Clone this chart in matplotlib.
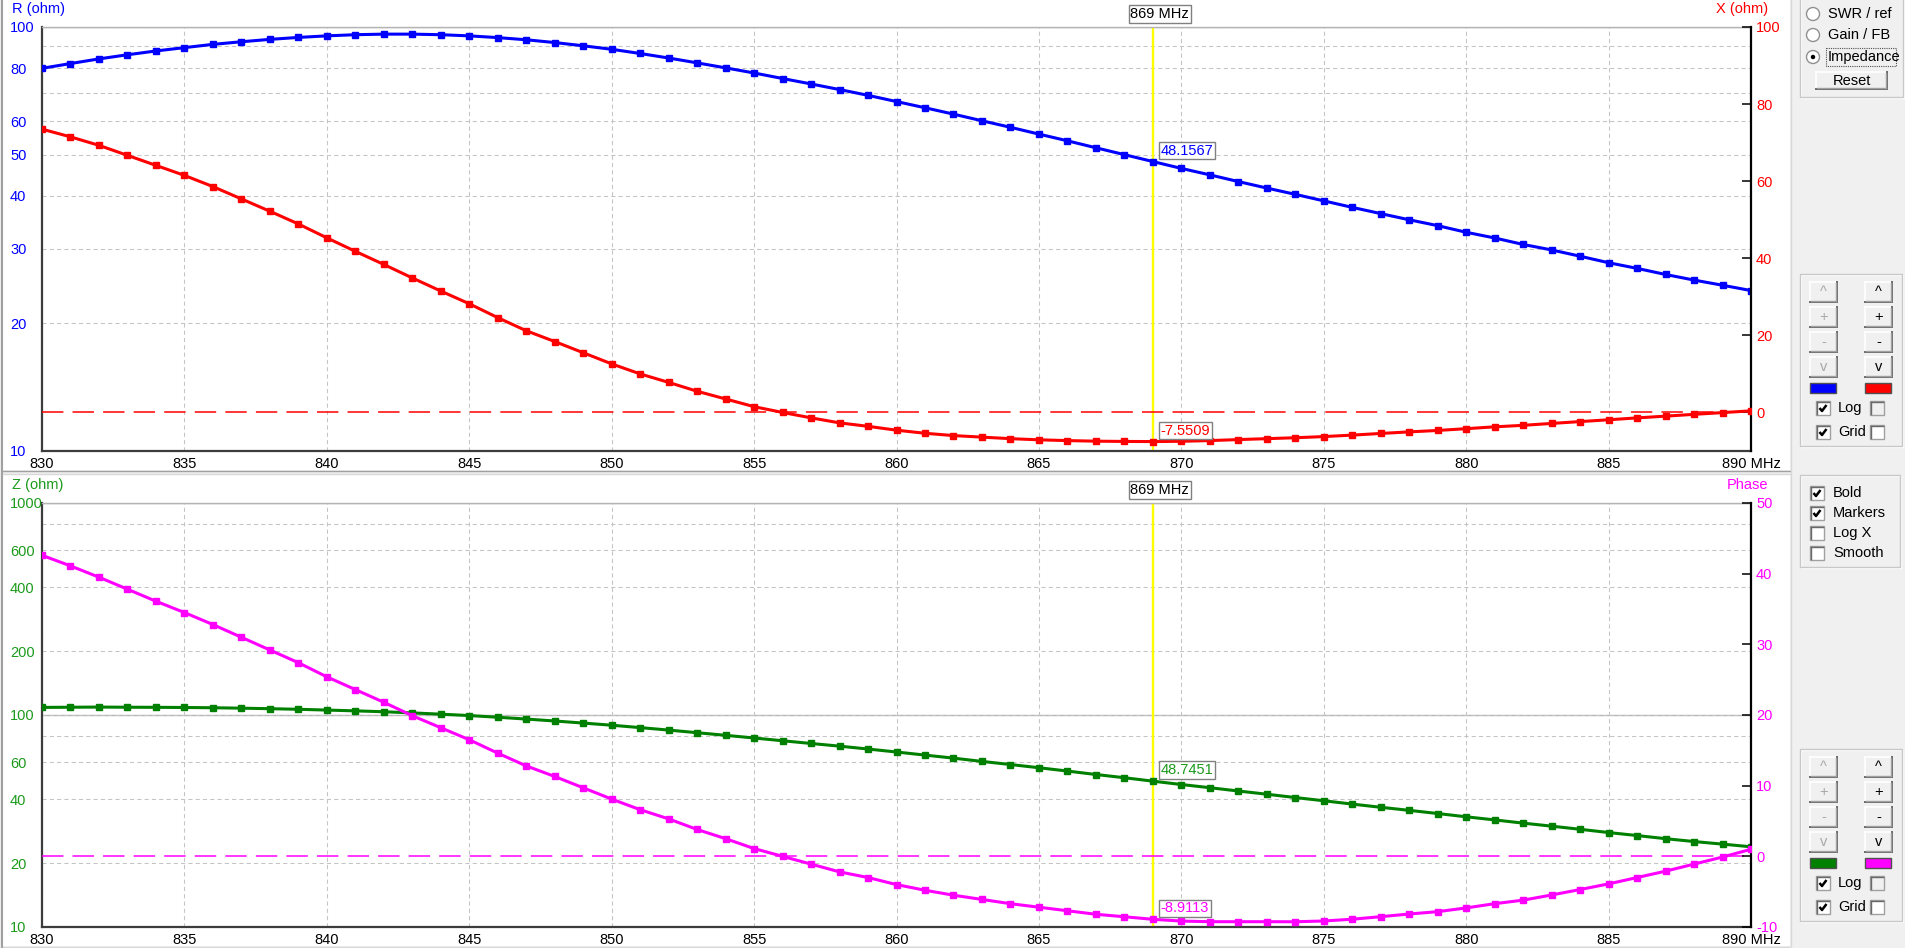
import matplotlib
matplotlib.use('Agg')
import matplotlib.pyplot as plt
from matplotlib.patches import Rectangle, Circle
from matplotlib.ticker import NullLocator
from matplotlib import font_manager as fm

# ---------------- data ----------------
FREQ = list(range(830, 891))

R = [79.9, 82.0, 84.1, 86.0, 87.8, 89.4, 91.0, 92.3, 93.5, 94.5,
     95.3, 95.9, 96.2, 96.2, 95.9, 95.3, 94.4, 93.3, 91.9, 90.3,
     88.6, 86.6, 84.5, 82.3, 80.1, 77.9, 75.6, 73.4, 71.2, 69.0,
     66.7, 64.5, 62.3, 60.1, 58.0, 55.9, 53.9, 51.9, 50.0, 48.1567,
     46.4, 44.8, 43.2, 41.7, 40.3, 38.9, 37.55, 36.3, 35.1, 34.0,
     32.8, 31.8, 30.7, 29.8, 28.8, 27.8, 26.96, 26.08, 25.3, 24.6, 23.9]

X = [73.5, 71.5, 69.3, 66.7, 64.1, 61.5, 58.6, 55.4, 52.2, 48.9,
     45.3, 41.8, 38.4, 34.9, 31.5, 28.2, 24.6, 21.2, 18.4, 15.5,
     12.6, 10.0, 7.8, 5.5, 3.5, 1.5, 0.0, -1.4, -2.7, -3.6,
     -4.6, -5.4, -6.0, -6.4, -6.8, -7.1, -7.3, -7.45, -7.52, -7.5509,
     -7.48, -7.30, -7.04, -6.80, -6.56, -6.26, -5.88, -5.45, -5.04, -4.67,
     -4.21, -3.73, -3.34, -2.85, -2.37, -1.90, -1.41, -0.96, -0.49, -0.04, 0.42]

Z = [108.6, 108.8, 109.0, 108.8, 108.7, 108.5, 108.2, 107.7, 107.1, 106.4,
     105.5, 104.6, 103.6, 102.3, 100.9, 99.4, 97.6, 95.7, 93.7, 91.6,
     89.5, 87.2, 84.9, 82.5, 80.2, 77.9, 75.6, 73.4, 71.3, 69.1,
     66.9, 64.7, 62.6, 60.4, 58.4, 56.4, 54.4, 52.4, 50.6, 48.7451,
     47.0, 45.4, 43.8, 42.3, 40.8, 39.4, 38.0, 36.7, 35.5, 34.3,
     33.1, 32.0, 30.9, 29.9, 28.9, 27.9, 27.0, 26.1, 25.3, 24.6, 23.9]

PHASE = [42.6, 41.1, 39.5, 37.8, 36.1, 34.5, 32.8, 31.0, 29.2, 27.4,
         25.4, 23.6, 21.8, 19.9, 18.2, 16.5, 14.6, 12.8, 11.3, 9.7,
         8.1, 6.6, 5.3, 3.8, 2.5, 1.1, 0.0, -1.1, -2.2, -3.0,
         -4.0, -4.8, -5.5, -6.1, -6.7, -7.2, -7.7, -8.2, -8.55, -8.9113,
         -9.16, -9.25, -9.25, -9.25, -9.26, -9.15, -8.9, -8.54, -8.16, -7.83,
         -7.3, -6.7, -6.2, -5.47, -4.7, -3.9, -3.0, -2.1, -1.1, -0.1, 1.0]

CURSOR = 869

X_TICKS = list(range(830, 891, 5))
X_LABELS = [str(v) for v in X_TICKS[:-1]] + ['890 MHz']

R_TICKS = [10, 20, 30, 40, 50, 60, 70, 80, 90, 100]
R_LABELS = ['10', '20', '30', '40', '50', '60', '', '80', '', '100']
X_RTICKS = [0, 20, 40, 60, 80, 100]
Z_TICKS = [10, 20, 40, 60, 80, 100, 200, 400, 600, 800, 1000]
Z_LABELS = ['10', '20', '40', '60', '', '100', '200', '400', '600', '', '1000']
PH_TICKS = [-10, 0, 10, 20, 30, 40, 50]

# ---------------- style ----------------
try:
    fm.findfont('Liberation Sans Narrow', fallback_to_default=False)
    FAM = ['Liberation Sans Narrow', 'DejaVu Sans']
    FS = 11.5
except Exception:
    FAM = ['Liberation Sans', 'DejaVu Sans']
    FS = 10.5
plt.rcParams['font.family'] = FAM

BLUE, RED, GREEN, MAG = '#0000FF', '#FF0000', '#008000', '#FF00FF'
GREEN_TXT = '#1C9A1C'
GRID = '#C4C4C4'

W, H = 1905, 948
fig = plt.figure(figsize=(W / 100, H / 100), dpi=100, facecolor='#F0F0F0')


def frect(x0, y0, x1, y1):
    return [x0 / W, 1 - y1 / H, (x1 - x0) / W, (y1 - y0) / H]


# background / UI layer in pixel coordinates
bg = fig.add_axes([0, 0, 1, 1], zorder=-10)
bg.set_xlim(0, W)
bg.set_ylim(H, 0)
bg.axis('off')

bg.add_patch(Rectangle((3, 0), 1787, 470, fc='white', ec='none'))
bg.add_patch(Rectangle((3, 474), 1787, 472, fc='white', ec='none'))
bg.plot([1.5, 1.5], [0, H], color='#A0A0A0', lw=1.5)
bg.plot([3, 1790], [470.5, 470.5], color='#A0A0A0', lw=1)
bg.plot([3, 1790], [473.5, 473.5], color='#D8D8D8', lw=1)
bg.plot([1790.5, 1790.5], [0, 946], color='#D8D8D8', lw=1)
bg.plot([3, 1790], [946.5, 946.5], color='#D8D8D8', lw=1)


def groupbox(x0, y0, x1, y1):
    bg.add_patch(Rectangle((x0 + 1, y0 + 1), x1 - x0, y1 - y0, fill=False, ec='white', lw=1))
    bg.add_patch(Rectangle((x0, y0), x1 - x0, y1 - y0, fill=False, ec='#C8C8C8', lw=1))


def button(x0, y0, x1, y1, label, enabled=True):
    bg.add_patch(Rectangle((x0, y0), x1 - x0, y1 - y0, fc='#F0F0F0', ec='none'))
    bg.plot([x0, x1], [y0, y0], color='white', lw=1.2)
    bg.plot([x0, x0], [y0, y1], color='white', lw=1.2)
    bg.plot([x0, x1], [y1, y1], color='#696969', lw=1.4)
    bg.plot([x1, x1], [y0, y1], color='#696969', lw=1.4)
    bg.plot([x0 + 1, x1 - 1], [y1 - 1.2, y1 - 1.2], color='#A0A0A0', lw=1)
    bg.plot([x1 - 1.2, x1 - 1.2], [y0 + 1, y1 - 1], color='#A0A0A0', lw=1)
    bg.text((x0 + x1) / 2, (y0 + y1) / 2, label, ha='center', va='center',
            fontsize=FS, color='black' if enabled else '#A8A8A8')


def checkbox(x0, y0, checked, face='white', s=14):
    bg.add_patch(Rectangle((x0, y0), s, s, fc=face, ec='#A0A0A0', lw=1))
    bg.plot([x0 + 1, x0 + s - 1], [y0 + 1, y0 + 1], color='#696969', lw=1)
    bg.plot([x0 + 1, x0 + 1], [y0 + 1, y0 + s - 1], color='#696969', lw=1)
    if checked:
        bg.plot([x0 + 3.5, x0 + 6, x0 + 10.5], [y0 + 7, y0 + 10, y0 + 4],
                color='black', lw=1.8, solid_capstyle='butt')


def radio(cx, cy, selected):
    bg.add_patch(Circle((cx, cy), 6.5, fc='white', ec='#909090', lw=1))
    if selected:
        bg.add_patch(Circle((cx, cy), 2.2, fc='black', ec='none'))


# group 1 : radio buttons
groupbox(1800, -3, 1903, 97)
for cy, lab, sel in [(14, 'SWR / ref', False), (35, 'Gain / FB', False), (57, 'Impedance', True)]:
    radio(1813, cy, sel)
    bg.text(1828, cy, lab, ha='left', va='center', fontsize=FS, color='black')
bg.add_patch(Rectangle((1826, 48), 70, 18, fill=False, ec='#505050', lw=0.8, ls=(0, (1, 1))))
button(1816, 72, 1887, 89, 'Reset')


def scale_group(y0, c_left, c_right):
    groupbox(1800, y0, 1902, y0 + 172)
    rows = [(y0 + 8, '^'), (y0 + 33, '+'), (y0 + 58, '-'), (y0 + 83, 'v')]
    for yy, lab in rows:
        button(1810, yy, 1837, yy + 20, lab, enabled=False)
        button(1865, yy, 1892, yy + 20, lab, enabled=True)
    bg.add_patch(Rectangle((1810, y0 + 109), 26, 10, fc=c_left, ec='#505050', lw=1))
    bg.add_patch(Rectangle((1865, y0 + 109), 26, 10, fc=c_right, ec='#505050', lw=1))
    checkbox(1816, y0 + 127, True)
    bg.text(1838, y0 + 134, 'Log', ha='left', va='center', fontsize=FS, color='black')
    checkbox(1870, y0 + 127, False, face='#F0F0F0')
    checkbox(1816, y0 + 151, True)
    bg.text(1838, y0 + 158, 'Grid', ha='left', va='center', fontsize=FS, color='black')
    checkbox(1870, y0 + 151, False)


scale_group(274, BLUE, RED)
scale_group(749, GREEN, MAG)

groupbox(1800, 475, 1900, 567)
for yy, lab, chk in [(486, 'Bold', True), (506, 'Markers', True), (526, 'Log X', False), (546, 'Smooth', False)]:
    checkbox(1810, yy, chk)
    bg.text(1833, yy + 7, lab, ha='left', va='center', fontsize=FS, color='black')

# axis titles
bg.text(12, 9, 'R (ohm)', ha='left', va='center', fontsize=FS, color=BLUE)
bg.text(1768, 9, 'X (ohm)', ha='right', va='center', fontsize=FS, color=RED)
bg.text(12, 485, 'Z (ohm)', ha='left', va='center', fontsize=FS, color=GREEN_TXT)
bg.text(1768, 485, 'Phase', ha='right', va='center', fontsize=FS, color=MAG)

ci = FREQ.index(CURSOR)


def setup_panel(rect, left_vals, right_vals, lticks, llabels, lylim, rticks, rylim,
                lcolor, rcolor, ltxt, rtxt, decades):
    ax = fig.add_axes(rect)
    ax.set_facecolor('white')
    ax.set_xlim(830, 890)
    ax.set_yscale('log')
    ax.set_ylim(*lylim)
    ax.set_xticks(X_TICKS, X_LABELS)
    ax.set_yticks(lticks, llabels, ha='left')
    ax.yaxis.set_minor_locator(NullLocator())
    ax.xaxis.set_minor_locator(NullLocator())
    ax.tick_params(axis='x', length=0, pad=4, labelsize=FS, labelcolor='black')
    ax.tick_params(axis='y', length=0, pad=23, labelsize=FS, labelcolor=ltxt)
    ax.grid(True, color=GRID, linestyle=(0, (4, 3)), linewidth=0.75, zorder=0)
    ax.set_axisbelow(True)
    for d in decades:
        ax.axhline(d, color='#B4B4B4', lw=1, zorder=0.5)
    for side in ['left', 'bottom']:
        ax.spines[side].set_color('#3C3C3C')
        ax.spines[side].set_linewidth(1.6)
    ax.spines['top'].set_color('#B4B4B4')
    ax.spines['top'].set_linewidth(1)
    ax.spines['right'].set_visible(False)

    ax.axvline(CURSOR, color='#FFFF00', lw=1.7, zorder=1)

    ax2 = ax.twinx()
    ax2.set_ylim(*rylim)
    ax2.set_yticks(rticks, [str(v) for v in rticks])
    ax2.yaxis.set_minor_locator(NullLocator())
    ax2.tick_params(axis='y', direction='in', length=6.5, width=1.1, color='black',
                    pad=3.6, labelsize=FS, labelcolor=rtxt)
    for side in ['left', 'top', 'bottom']:
        ax2.spines[side].set_visible(False)
    ax2.spines['right'].set_color('black')
    ax2.spines['right'].set_linewidth(1.6)

    ax2.axhline(0, color=rcolor, lw=1.1, linestyle=(0, (14, 6)), zorder=1)
    ax.plot(FREQ, left_vals, color=lcolor, lw=2.2, marker='s', ms=5, zorder=3)
    ax2.plot(FREQ, right_vals, color=rcolor, lw=2.2, marker='s', ms=5, zorder=3)

    bbox = dict(boxstyle='square,pad=0.12', fc='white', ec='#808080', lw=1)
    ax.annotate(f'{left_vals[ci]:.4f}', xy=(CURSOR, left_vals[ci]), xytext=(8, 4),
                textcoords='offset pixels', ha='left', va='bottom', fontsize=FS,
                color=lcolor if lcolor != GREEN else GREEN_TXT, bbox=bbox, zorder=5)
    ax2.annotate(f'{right_vals[ci]:.4f}', xy=(CURSOR, right_vals[ci]), xytext=(8, 4),
                 textcoords='offset pixels', ha='left', va='bottom', fontsize=FS,
                 color=rcolor, bbox=bbox, zorder=5)
    ax2.annotate(f'{CURSOR} MHz', xy=(CURSOR, 1), xycoords=('data', 'axes fraction'),
                 xytext=(7, 6), textcoords='offset pixels', ha='center', va='bottom',
                 fontsize=FS, color='black', bbox=bbox, annotation_clip=False)
    return ax, ax2


setup_panel(frect(42, 27, 1751, 451), R, X, R_TICKS, R_LABELS, (10, 100),
            X_RTICKS, (-10, 100), BLUE, RED, BLUE, RED, [100])
setup_panel(frect(42, 503, 1751, 927), Z, PHASE, Z_TICKS, Z_LABELS, (10, 1000),
            PH_TICKS, (-10, 50), GREEN, MAG, GREEN_TXT, MAG, [100, 1000])

fig.savefig('out.png', dpi=100, facecolor=fig.get_facecolor())
